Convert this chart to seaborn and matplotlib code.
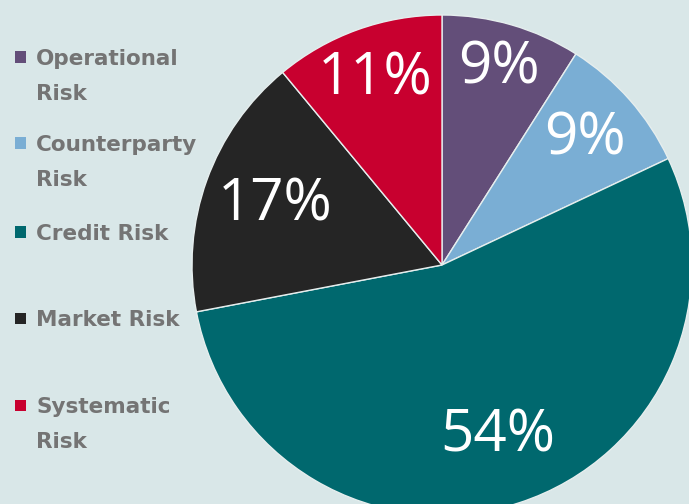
import matplotlib
matplotlib.use("Agg")
import matplotlib.pyplot as plt
import numpy as np
import seaborn as sns

# Risk breakdown (share of total, %)
categories = ["Operational\nRisk", "Counterparty\nRisk", "Credit Risk", "Market Risk", "Systematic\nRisk"]
shares = [9, 9, 54, 17, 11]
colors = ["#634e79", "#7aaed4", "#00686e", "#252525", "#c8002f"]

sns.set_theme(style="white")
plt.rcParams["font.family"] = ["Open Sans", "DejaVu Sans"]

BG = "#d9e7e8"
W, H = 689, 504
fig = plt.figure(figsize=(W / 100, H / 100), dpi=100, facecolor=BG)

# pie centre / radius in pixels
cx, cy, r = 442, 265, 250
ax = fig.add_axes([(cx - r) / W, (H - cy - r) / H, 2 * r / W, 2 * r / H])
ax.set_facecolor(BG)

wedges, texts, autotexts = ax.pie(
    shares, colors=colors, startangle=90, counterclock=False,
    autopct=lambda p: f"{p:.0f}%", pctdistance=0.76,
    wedgeprops=dict(edgecolor="#e6eeee", linewidth=1.0),
    textprops=dict(color="white", fontsize=42),
)
# radial placement of each percentage label
label_radius = [0.82, 0.76, 0.72, 0.71, 0.79]
for w, t, d in zip(wedges, autotexts, label_radius):
    ang = np.deg2rad((w.theta1 + w.theta2) / 2)
    t.set_position((d * np.cos(ang), d * np.sin(ang)))
    t.set_ha("center")
    t.set_va("center")

ax.set_xlim(-1, 1)
ax.set_ylim(-1, 1)
ax.set_aspect("equal")
ax.axis("off")

# legend drawn at left: square swatch beside first line of each label
legend_y = [57, 143, 232, 318, 405]
for lab, col, y in zip(categories, colors, legend_y):
    fig.patches.append(plt.Rectangle((15 / W, (H - y - 5.5) / H), 11 / W, 11 / H,
                                     transform=fig.transFigure, facecolor=col,
                                     edgecolor="none"))
    fig.text(36 / W, (H - y + 8) / H, lab, color="#747474", fontsize=15.5,
             fontweight="bold", family="DejaVu Sans",
             va="top", ha="left", linespacing=1.92,
             transform=fig.transFigure)

fig.savefig("out.png", dpi=100, facecolor=BG)
